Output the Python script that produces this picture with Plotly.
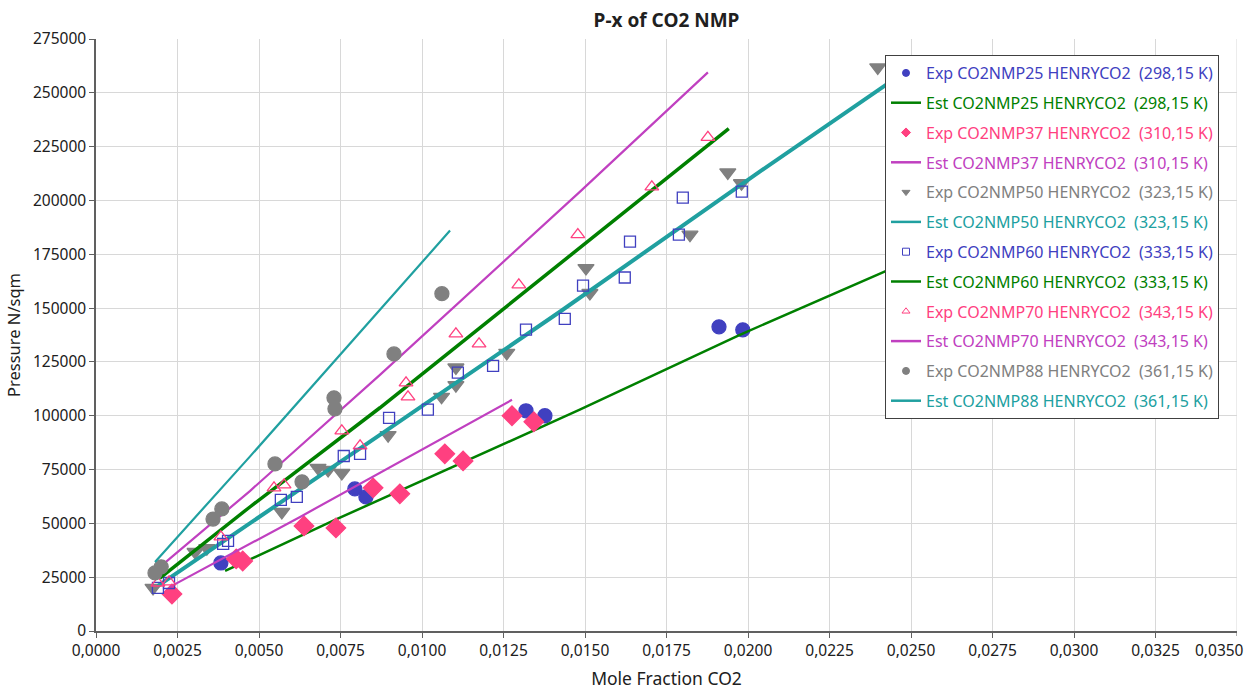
import plotly.graph_objects as go

# ---- data ----
exp25_x = [0.00383, 0.00794, 0.00828, 0.01319, 0.01377, 0.01911, 0.01984]
exp25_y = [31600, 66000, 62300, 102300, 100000, 141300, 139900]
est25_x = [0.00396, 0.00733, 0.01484, 0.01975, 0.0244]
est25_y = [27900, 51600, 102800, 137600, 168300]

exp37_x = [0.00233, 0.00430, 0.00450, 0.00638, 0.00736, 0.00850, 0.00932, 0.01070, 0.01126, 0.01276, 0.01343]
exp37_y = [17200, 33500, 32500, 48800, 47900, 66500, 63700, 82300, 79000, 100000, 97200]
est37_x = [0.00227, 0.00626, 0.01276]
est37_y = [20500, 53000, 107400]

exp50_x = [0.00175, 0.00304, 0.00340, 0.00570, 0.00681, 0.00712, 0.00754, 0.00896, 0.01060, 0.01104,
           0.01104, 0.01260, 0.01503, 0.01515, 0.01822, 0.01938, 0.01980, 0.02398]
exp50_y = [20000, 36700, 38500, 55300, 75800, 74800, 73400, 91000, 108800, 122400,
           114200, 129200, 168600, 157000, 184100, 213000, 208000, 261800]
est50_x = [0.0019, 0.00534, 0.00871, 0.01423, 0.02036, 0.0246]
est50_y = [21000, 56200, 91100, 148300, 213400, 257500]

exp60_x = [0.00190, 0.00224, 0.00390, 0.00405, 0.00567, 0.00616, 0.00760, 0.00810, 0.00899, 0.01018,
           0.01110, 0.01218, 0.01319, 0.01438, 0.01494, 0.01622, 0.01638, 0.01788, 0.01800, 0.01981]
exp60_y = [20000, 22300, 40500, 41900, 60900, 62300, 81300, 82300, 99000, 102800,
           120000, 123200, 140000, 145000, 160400, 164200, 180900, 184100, 201300, 204100]
est60_x = [0.00196, 0.00472, 0.00871, 0.01484, 0.01941]
est60_y = [24600, 57600, 103700, 178000, 233400]

exp70_x = [0.00190, 0.00224, 0.00383, 0.00546, 0.00577, 0.00754, 0.00810, 0.00951, 0.00957, 0.01104,
           0.01175, 0.01297, 0.01478, 0.01705, 0.01877]
exp70_y = [22300, 22800, 43700, 66500, 67900, 93000, 86000, 115300, 108800, 138000,
           133400, 160800, 184100, 206300, 229300]
est70_x = [0.0019, 0.00472, 0.00871, 0.01484, 0.01877]
est70_y = [29000, 65000, 119000, 204000, 259500]

exp88_x = [0.00181, 0.00200, 0.00359, 0.00386, 0.00549, 0.00632, 0.00730, 0.00733, 0.00914, 0.01061]
exp88_y = [27000, 29800, 52000, 56700, 77600, 69300, 108300, 103200, 128700, 156700]
est88_x = [0.00181, 0.00472, 0.01086]
est88_y = [32100, 81000, 186000]

x_ticks = [0.0, 0.0025, 0.005, 0.0075, 0.01, 0.0125, 0.015, 0.0175, 0.02, 0.0225,
           0.025, 0.0275, 0.03, 0.0325, 0.035]
x_tick_labels = ["0,0000", "0,0025", "0,0050", "0,0075", "0,0100", "0,0125", "0,0150", "0,0175",
                 "0,0200", "0,0225", "0,0250", "0,0275", "0,0300", "0,0325", "0,0350"]

names = [
    "Exp CO2NMP25 HENRYCO2\u00a0\u00a0(298,15 K)", "Est CO2NMP25 HENRYCO2\u00a0\u00a0(298,15 K)",
    "Exp CO2NMP37 HENRYCO2\u00a0\u00a0(310,15 K)", "Est CO2NMP37 HENRYCO2\u00a0\u00a0(310,15 K)",
    "Exp CO2NMP50 HENRYCO2\u00a0\u00a0(323,15 K)", "Est CO2NMP50 HENRYCO2\u00a0\u00a0(323,15 K)",
    "Exp CO2NMP60 HENRYCO2\u00a0\u00a0(333,15 K)", "Est CO2NMP60 HENRYCO2\u00a0\u00a0(333,15 K)",
    "Exp CO2NMP70 HENRYCO2\u00a0\u00a0(343,15 K)", "Est CO2NMP70 HENRYCO2\u00a0\u00a0(343,15 K)",
    "Exp CO2NMP88 HENRYCO2\u00a0\u00a0(361,15 K)", "Est CO2NMP88 HENRYCO2\u00a0\u00a0(361,15 K)",
]

BLUE = "#4040c0"
GREEN = "#008000"
PINK = "#ff4080"
MAGENTA = "#c040c0"
GRAY = "#808080"
CYAN = "#20a0a0"

series = [
    (exp25_x, exp25_y, "m", BLUE, "circle", 14),
    (est25_x, est25_y, "l", GREEN, 2.5, None),
    (exp37_x, exp37_y, "m", PINK, "diamond", 15),
    (est37_x, est37_y, "l", MAGENTA, 2.2, None),
    (exp50_x, exp50_y, "m", GRAY, "triangle-down", 14),
    (est50_x, est50_y, "l", CYAN, 4, None),
    (exp60_x, exp60_y, "m", BLUE, "square-open", 11),
    (est60_x, est60_y, "l", GREEN, 3.5, None),
    (exp70_x, exp70_y, "m", PINK, "triangle-up-open", 12),
    (est70_x, est70_y, "l", MAGENTA, 2.2, None),
    (exp88_x, exp88_y, "m", GRAY, "circle", 14),
    (est88_x, est88_y, "l", CYAN, 2.2, None),
]
text_colors = [BLUE, GREEN, PINK, MAGENTA, GRAY, CYAN, BLUE, GREEN, PINK, MAGENTA, GRAY, CYAN]

fig = go.Figure()
for i, (x, y, kind, col, st, sz) in enumerate(series):
    if kind == "m":
        fig.add_trace(go.Scatter(x=x, y=y, mode="markers", showlegend=False,
                                 marker=dict(symbol=st, size=sz, color=col,
                                             line=dict(color=col, width=1.3))))
    else:
        fig.add_trace(go.Scatter(x=x, y=y, mode="lines", showlegend=False,
                                 line=dict(color=col, width=st)))

# legend-only entries
for i, (x, y, kind, col, st, sz) in enumerate(series):
    label = '<span style="color:%s">%s</span>' % (text_colors[i], names[i])
    if kind == "m":
        fig.add_trace(go.Scatter(x=[None], y=[None], mode="markers", name=label,
                                 legendgroup="g%d" % i,
                                 marker=dict(symbol=st, size=7, color=col,
                                             line=dict(color=col, width=1))))
    else:
        fig.add_trace(go.Scatter(x=[None], y=[None], mode="lines", name=label,
                                 legendgroup="g%d" % i,
                                 line=dict(color=col, width=2.5)))

FONT = "Noto Sans, Open Sans, sans-serif"
TICKFONT = 15.5
fig.update_layout(
    width=1250, height=691,
    paper_bgcolor="white", plot_bgcolor="white",
    separators=",.",
    font=dict(family=FONT, size=15, color="#202020"),
    margin=dict(l=96, r=13, t=39, b=60, autoexpand=False),
    title=dict(text="<b>P-x of CO2 NMP</b>", x=(96 + 1237) / 2 / 1250, xanchor="center",
               y=1 - 20 / 691, yanchor="middle", yref="container",
               font=dict(size=19, color="#202020", family=FONT)),
    xaxis=dict(range=[0, 0.035], tickvals=x_ticks[:-1], ticktext=x_tick_labels[:-1],
               showgrid=True, gridcolor="#d8d8d8", gridwidth=1,
               showline=True, linecolor="#606060", linewidth=1.5,
               ticks="outside", ticklen=5, tickcolor="#606060",
               zeroline=False, automargin=False,
               title=dict(text="Mole Fraction CO2", standoff=12, font=dict(size=17.5)),
               tickfont=dict(size=TICKFONT)),
    yaxis=dict(range=[0, 275000], dtick=25000, tick0=0, tickformat="d",
               showgrid=True, gridcolor="#d8d8d8", gridwidth=1,
               showline=True, linecolor="#606060", linewidth=1.5,
               ticks="outside", ticklen=5, tickcolor="#606060",
               zeroline=False, automargin=False,
               title=dict(text="Pressure N/sqm", standoff=8, font=dict(size=16.5)),
               tickfont=dict(size=TICKFONT)),
    legend=dict(x=(885 - 96) / 1141, y=(631 - 55) / 592, xanchor="left", yanchor="top",
                bgcolor="white", bordercolor="#404040", borderwidth=1,
                font=dict(size=16, family=FONT),
                tracegroupgap=6, itemwidth=30),
)

# last x tick (gridline, tick mark and label pulled inside the page as in the reference)
fig.add_shape(type="line", xref="x", yref="paper", x0=x_ticks[-1], x1=x_ticks[-1],
              y0=0, y1=1, line=dict(color="#d8d8d8", width=1), layer="below")
fig.add_shape(type="line", xref="x", yref="paper", x0=x_ticks[-1], x1=x_ticks[-1],
              y0=0, y1=-5 / 592, line=dict(color="#606060", width=1))
fig.add_annotation(x=x_ticks[-1], xref="x", y=0, yref="paper", text=x_tick_labels[-1],
                   showarrow=False, xanchor="right", yanchor="top", xshift=9, yshift=-6,
                   font=dict(size=TICKFONT, color="#202020", family=FONT))

fig.write_html("out.html")
